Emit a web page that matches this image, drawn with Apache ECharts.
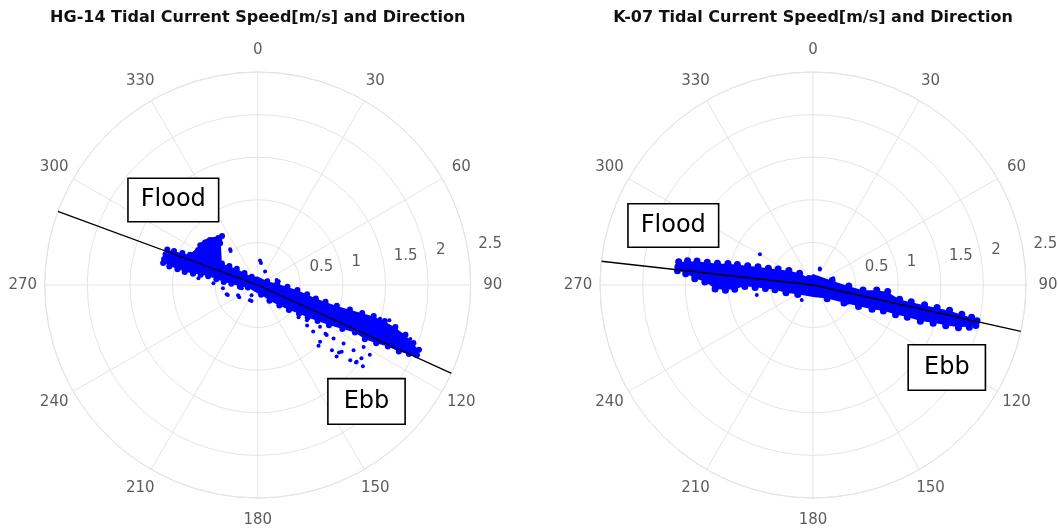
<!DOCTYPE html>
<html><head><meta charset="utf-8">
<script src="https://cdn.jsdelivr.net/npm/echarts@6/dist/echarts.min.js"></script>
<style>html,body{margin:0;padding:0;background:#fff}#c{width:1058px;height:529px}</style>
</head><body><div id="c"></div><script>
// ---- tick labels ----
const angleTicks = [0,30,60,90,120,150,180,210,240,270,300,330];
const angleTickLabels = ['0','30','60','90','120','150','180','210','240','270','300','330'];
const radiusTicks = [0.5,1,1.5,2,2.5];
const radiusTickLabels = ['0.5','1','1.5','2','2.5'];
const radiusLabelAngle = 82;

// ---- titles / annotations ----
const titles = ['HG-14 Tidal Current Speed[m/s] and Direction','K-07 Tidal Current Speed[m/s] and Direction'];
const annotations = ['Flood','Ebb'];

// ---- HG-14 data: [speed m/s, direction deg] ----
// outline of the densest part of the point cloud
const hgEnvelope = [
 [1.16,287.0],[1.14,291.2],[1.06,292.0],[0.96,292.8],[0.88,293.8],
 [0.85,298.5],[0.83,301.4],[0.83,309.4],[0.77,317.0],[0.70,324.6],[0.64,317.5],[0.54,308.2],
 [0.49,300.8],[0.40,303.4],[0.31,307.5],[0.21,312.0],[0.12,324.0],[0.10,0],
 [0.12,69.0],[0.23,86.0],[0.35,93.8],[0.47,97.5],[0.59,100.9],[0.70,103.2],[0.82,104.1],[0.96,104.9],
 [1.12,105.1],[1.27,105.2],[1.41,105.2],[1.55,106.0],[1.69,107.2],[1.83,108.8],[1.95,110.6],[2.04,112.1],[2.08,113.6],
 [2.03,114.6],[1.95,114.6],[1.83,115.2],[1.69,115.3],[1.55,116.2],[1.41,116.8],[1.27,116.1],[1.12,117.4],
 [0.96,119.3],[0.82,120.9],[0.70,123.0],[0.59,124.7],[0.47,128.6],[0.35,133.4],[0.23,143.0],[0.12,160.0],[0.10,180],
 [0.12,256.0],[0.21,264.9],[0.31,272.8],[0.40,275.2],[0.49,278.1],[0.59,280.1],[0.68,280.5],[0.77,280.0],
 [0.87,280.3],[0.96,281.3],[1.06,282.1],[1.14,283.3]
];
const hgCore = [
 [1.14,291.4],[1.14,288.4],[1.14,285.5],[1.14,283.1],
 [1.06,292.1],[1.06,288.9],[1.06,285.7],[1.06,281.9],
 [0.96,293.0],[0.96,288.8],[0.96,284.6],[0.96,281.1],
 [0.87,294.1],[0.87,289.4],[0.87,284.8],[0.87,280.1],
 [0.77,295.4],[0.77,290.2],[0.77,285.0],[0.77,279.8],
 [0.68,297.1],[0.68,291.2],[0.68,285.3],[0.68,280.3],
 [0.59,298.2],[0.59,291.3],[0.59,285.6],[0.59,279.9],
 [0.49,301.1],[0.49,292.9],[0.49,284.7],[0.49,277.9],
 [0.40,303.7],[0.40,291.9],[0.40,281.8],[0.40,275.0],
 [0.31,307.8],[0.31,290.2],[0.31,272.6],
 [0.21,312.5],[0.21,287.0],[0.21,264.7],
 [0.12,324.6],[0.12,255.8],[0.05,290],
 [0.71,323.9],[0.77,313.3],[0.82,304.7],[0.74,303.6],[0.68,312.4],[0.66,318.1],[0.81,300.4],
 [0.75,308],[0.70,316],[0.79,309],[0.72,320],
 [0.12,68.7],[0.12,160.3],
 [0.23,85.8],[0.23,114.5],[0.23,143.2],
 [0.35,93.5],[0.35,106.9],[0.35,122.1],[0.35,133.6],
 [0.47,97.3],[0.47,108.8],[0.47,120.2],[0.47,128.8],
 [0.59,100.7],[0.59,108.8],[0.59,116.8],[0.59,124.8],
 [0.70,103.0],[0.70,109.7],[0.70,116.4],[0.70,123.1],
 [0.82,103.9],[0.82,109.6],[0.82,115.3],[0.82,121.0],
 [0.96,104.7],[0.96,109.6],[0.96,114.5],[0.96,119.4],
 [1.12,104.9],[1.12,109.1],[1.12,113.3],[1.12,117.5],
 [1.27,105.0],[1.27,108.7],[1.27,112.4],[1.27,116.1],
 [1.41,105.0],[1.41,108.3],[1.41,111.6],[1.41,115.0],[1.41,116.9],
 [1.55,105.8],[1.55,108.9],[1.55,111.9],[1.55,114.5],[1.55,116.2],
 [1.69,107.0],[1.69,109.7],[1.69,112.5],[1.69,115.3],
 [1.83,108.6],[1.83,111.2],[1.83,113.8],[1.83,115.2],
 [1.95,110.4],[1.95,112.4],[1.95,114.5],
 [2.04,111.9],[2.04,113.8]
];
const hgSparse = [
 [0.53,322.4],[0.29,5.4],[0.18,28.8],[0.23,75.3],[0.41,264.5],[0.38,253.3],[0.26,242.7],
 [0.20,207.2],[0.14,211],[0.19,258.3],[0.70,276.4],[0.52,272.2],[0.51,321.5],[0.26,8.4],
 [0.25,80.2],[0.37,251.5],[0.26,236.7],[0.20,201.2],
 [0.71,125.5],[0.85,130.0],[0.99,132.3],[1.16,131.3],[1.25,132.2],[1.26,128.5],[1.40,129.1],
 [1.47,127.8],[1.49,125.2],[1.22,124.3],[1.09,125.2],[1.00,125.9],[1.36,124.2],[1.44,120.3],
 [1.55,121.9],[0.88,123.8],[1.01,135],[0.98,125.8],[1.24,129.7],[1.47,128.3],[1.56,127.7],
 [0.75,129.4],[0.61,128.2],[0.40,100.9],[0.70,104.6],[1.49,105.4],[1.60,105],[0.72,104.2],[1.90,109.5]
];
const hgTrend = [[2.5,290.2],[0,0],[2.5,114.5]];

// ---- K-07 data: [speed m/s, direction deg] ----
const kEnvelope = [
 [1.63,277.8],[1.60,279.6],[1.50,280.7],[1.39,281.5],[1.27,282.0],[1.15,282.6],[1.03,284.0],[0.92,285.0],[0.80,286.3],
 [0.68,288.0],[0.56,290.4],[0.45,294.0],[0.33,300.5],[0.21,311.0],[0.10,328],[0.13,0],
 [0.23,77.5],[0.42,92.0],[0.59,96.0],[0.75,94.8],[0.88,95.3],[1.03,99.5],[1.17,99.9],[1.33,100.3],[1.48,100.5],
 [1.63,100.7],[1.78,101.3],[1.90,101.7],[1.97,102.5],[1.99,103.4],
 [1.96,104.0],[1.90,104.9],[1.78,106.2],[1.63,106.9],[1.48,107.4],[1.33,108.5],[1.17,108.7],[1.03,109.6],
 [0.88,110.0],[0.75,112.2],[0.59,115.0],[0.42,119.8],[0.23,133.8],[0.14,180],
 [0.21,238.5],[0.33,254.2],[0.45,263.0],[0.56,265.9],[0.68,267.7],[0.80,269.0],[0.92,267.1],[1.03,266.8],
 [1.15,267.8],[1.27,271.8],[1.39,273.2],[1.50,275.3],[1.60,276.2]
];
const kCore = [
 [1.60,279.8],[1.60,277.7],[1.60,276.0],
 [1.50,280.9],[1.50,278.2],[1.50,275.1],
 [1.39,281.7],[1.39,278.8],[1.39,275.9],[1.39,273.0],
 [1.27,282.2],[1.27,279.1],[1.27,275.3],[1.27,271.6],
 [1.15,282.8],[1.15,279.3],[1.15,275.2],[1.15,271.1],[1.15,267.6],
 [1.03,284.2],[1.03,279.7],[1.03,275.1],[1.03,270.5],[1.03,266.6],
 [0.92,285.2],[0.92,280.1],[0.92,274.9],[0.92,269.8],[0.92,266.9],
 [0.80,286.5],[0.80,280.6],[0.80,274.7],[0.80,268.8],
 [0.68,288.3],[0.68,281.3],[0.68,274.4],[0.68,267.5],
 [0.56,290.7],[0.56,281.2],[0.56,272.8],[0.56,265.7],
 [0.45,294.5],[0.45,282.4],[0.45,271.9],[0.45,262.8],
 [0.33,300.9],[0.33,284.6],[0.33,268.2],[0.33,253.9],
 [0.21,311.4],[0.21,285.9],[0.21,260.5],[0.21,238.2],
 [0.09,328],[0.09,276],[0.09,224],
 [0.23,76.8],[0.23,102.6],[0.23,134.1],
 [0.42,91.5],[0.42,102.6],[0.42,120.1],
 [0.59,95.7],[0.59,106.0],[0.59,115.2],
 [0.75,94.5],[0.75,100.8],[0.75,107.1],[0.75,112.4],
 [0.88,95.0],[0.88,100.3],[0.88,105.7],[0.88,110.2],
 [1.03,99.3],[1.03,102.6],[1.03,105.9],[1.03,109.8],
 [1.17,99.7],[1.17,102.6],[1.17,106.0],[1.17,108.9],
 [1.33,100.1],[1.33,103.1],[1.33,105.6],[1.33,108.7],
 [1.48,100.3],[1.48,103.1],[1.48,105.3],[1.48,107.6],
 [1.63,100.5],[1.63,103.0],[1.63,105.1],[1.63,107.1],
 [1.78,101.1],[1.78,103.0],[1.78,104.5],[1.78,106.4],
 [1.90,101.5],[1.90,103.3],[1.90,105.1],
 [1.97,102.3],[1.97,104.0]
];
const kSparse = [
 [0.72,300.1],[0.20,23.6],[0.22,217],[0.46,117.1],[0.67,260],[0.21,22.7],[0.25,71.7]
];
const kTrend = [[2.5,276.4],[0,0],[2.5,102.6]];

// ---- layout ----
const centers = [[257.7,285],[813,285]];
const R = 213, RL = 235;
const GRID = '#e4e4e4';
const BLUE = '#0000ff';
const TICK_FONT = 'DejaVu Sans';

const polar = [], angleAxis = [], radiusAxis = [];
centers.forEach((c)=>{
  polar.push({center:c, radius:R});
  polar.push({center:c, radius:RL});
});
for (let i=0;i<4;i++){
  const main = i%2===0;
  angleAxis.push({polarIndex:i,type:'value',min:0,max:360,interval:30,startAngle:90,clockwise:true,
    axisLine:{show:main,lineStyle:{color:GRID,width:1}},axisTick:{show:false},axisLabel:{show:false},
    splitLine:{show:main,lineStyle:{color:GRID,width:1}}});
  radiusAxis.push({polarIndex:i,type:'value',min:0,max:main?2.5:1,interval:0.5,
    axisLine:{show:false},axisTick:{show:false},axisLabel:{show:false},
    splitLine:{show:main,lineStyle:{color:GRID,width:1}}});
}

const series = [];
function addChart(pi, env, core, sparse, trend, coreSize){
  series.push({type:'custom',coordinateSystem:'polar',polarIndex:pi,data:env,silent:true,z:2,
    renderItem:(params, api)=>{
      if (params.dataIndex !== 0) return null;
      return {type:'polygon', shape:{points:env.map(p=>api.coord(p))}, style:{fill:BLUE}};
    }});
  series.push({type:'scatter',coordinateSystem:'polar',polarIndex:pi,data:core,symbolSize:coreSize,
    itemStyle:{color:BLUE,opacity:1},silent:true,z:2});
  series.push({type:'scatter',coordinateSystem:'polar',polarIndex:pi,data:sparse,symbolSize:4,
    itemStyle:{color:BLUE,opacity:1},silent:true,z:2});
  series.push({type:'line',coordinateSystem:'polar',polarIndex:pi,data:trend,showSymbol:false,symbol:'none',
    lineStyle:{color:'#000',width:1.3},silent:true,z:3});
  series.push({type:'scatter',coordinateSystem:'polar',polarIndex:pi,data:radiusTicks.map(r=>[r,radiusLabelAngle]),
    symbolSize:0,silent:true,z:4,
    label:{show:true,position:'right',distance:9.5,offset:[0,-11.5],formatter:p=>radiusTickLabels[p.dataIndex],
      fontFamily:TICK_FONT,fontSize:15,color:'#333'}});
  series.push({type:'scatter',coordinateSystem:'polar',polarIndex:pi+1,clip:false,data:angleTicks.map(a=>[1,a]),
    symbolSize:0,silent:true,z:4,
    label:{show:true,position:'inside',formatter:p=>angleTickLabels[p.dataIndex],
      fontFamily:TICK_FONT,fontSize:15,color:'#333'}});
}
addChart(0, hgEnvelope, hgCore, hgSparse, hgTrend, 6);
addChart(2, kEnvelope, kCore, kSparse, kTrend, 7);

function box(text, x, y, pad){
  return {type:'text', x:x, y:y, z:10, style:{text:text, font:'24px "DejaVu Sans"', fill:'#000',
    align:'center', verticalAlign:'middle', backgroundColor:'#fff', borderColor:'#000', borderWidth:1.6, padding:pad}};
}

const chart = echarts.init(document.getElementById('c'), null, {renderer:'canvas'});
chart.setOption({
  animation:false,
  backgroundColor:'#fff',
  title: centers.map((c,i)=>({text:titles[i], left:c[0], top:10, textAlign:'center', padding:0,
    textStyle:{fontFamily:'DejaVu Sans', fontWeight:'bold', fontSize:16, color:'#111'}})),
  polar, angleAxis, radiusAxis, series,
  graphic:[
    box(annotations[0], 173.3, 200, [9,12]),
    box(annotations[1], 366.5, 401.4, [10,15]),
    box(annotations[0], 673.3, 225.5, [9,12]),
    box(annotations[1], 946.8, 367.5, [10,15])
  ]
});
</script></body></html>
